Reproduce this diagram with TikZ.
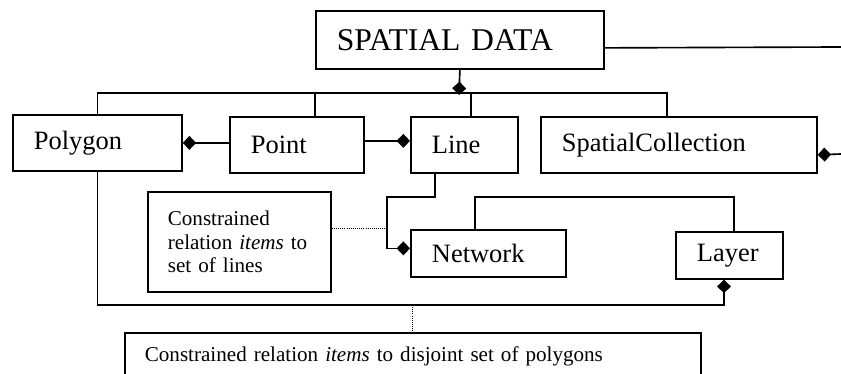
\documentclass[tikz,border=0pt]{standalone}
\usepackage{fontspec}
\setmainfont{Liberation Serif}
\usetikzlibrary{arrows.meta,positioning,calc}

\begin{document}
\begin{tikzpicture}[x=0.03cm,y=-0.03cm,
  box/.style={draw,line width=1.5pt,anchor=north west,inner xsep=0.63cm,inner ysep=0pt,
    align=left,minimum height=1.68cm,font=\fontsize{22.6}{26}\selectfont},
  notebox/.style={box,inner xsep=0.6cm,font=\fontsize{18}{20}\selectfont},
  conn/.style={line width=1.4pt},
  note/.style={line width=0.8pt,densely dotted},
  hasdia/.style={-{Diamond[length=0.4cm,width=0.42cm]}},
  diahas/.style={{Diamond[length=0.4cm,width=0.42cm]}-}]
  \useasboundingbox (0,0) rectangle (841,374);
  \clip (0,0) rectangle (841,374);

  % classes
  \node[box,text width=7.38cm,minimum height=1.74cm,font=\fontsize{27}{30}\selectfont] (data) at (315,10) {SPATIAL DATA};
  \node[box,text width=3.81cm] (polygon) at (12,114) {Polygon};
  \node[box,text width=2.76cm] (point) at (229,116) {Point};
  \node[box,text width=1.95cm] (line) at (410,116) {Line};
  \node[box,text width=7.02cm] (coll) at (540,116) {SpatialCollection};
  \node[box,text width=3.39cm,minimum height=1.41cm] (network) at (410,229) {Network};
  \node[box,text width=1.95cm,minimum height=1.41cm] (layer) at (675,231) {Layer};

  % constraints
  \node[notebox,text width=4.29cm,minimum height=3.0cm] (note1) at (147,191) {Constrained\\relation \textit{items} to\\set of lines};
  \node[notebox,text width=16.08cm,minimum height=1.38cm] (note2) at (124,332) {Constrained relation \textit{items} to disjoint set of polygons};

  % helper points
  \coordinate (bus) at (459,93);
  \coordinate (pointx) at ($(point.north west)+(86,0)$);
  \coordinate (linex) at ($(line.north west)+(61,0)$);
  \coordinate (collx) at ($(coll.north west)+(127,0)$);
  \coordinate (dataend) at (841,47);
  \coordinate (collend) at (841,154);
  \coordinate (lineout) at ($(line.south west)+(25,0)$);
  \coordinate (jog) at (387,197);
  \coordinate (netin) at ($(network.west)+(0,-5)$);
  \coordinate (netup) at ($(network.north west)+(65,0)$);
  \coordinate (layerup) at ($(layer.north west)+(59,0)$);
  \coordinate (layerx) at ($(layer.south west)+(49,0)$);
  \coordinate (ring) at (412,305);

  % aggregation under SPATIAL DATA
  \draw[conn,hasdia] (data.south) -- ($(bus)+(0,2)$);
  \draw[conn] (polygon.north) |- (bus) -| (collx);
  \draw[conn] (pointx) -- (pointx |- bus);
  \draw[conn] (linex) -- (linex |- bus);
  \draw[conn] ($(data.east)+(0,8)$) -- (dataend);

  % part-of links
  \draw[conn,diahas] (polygon.east) -- (polygon.east -| point.west);
  \draw[conn,hasdia] ($(point.east)+(0,-4)$) -- ($(line.west)+(0,-4)$);
  \draw[conn,diahas] ($(coll.east)+(0,10)$) -- (collend);
  \draw[conn,hasdia] (lineout) |- (jog) |- (netin);
  \draw[conn] (netup) -- ++(0,-32) -| (layerup);
  \draw[conn,hasdia] (polygon.south) |- (ring -| layerx) -- (layerx);

  % dotted notes
  \draw[note] ($(note1.east)+(0,-13)$) -- (jog |- {$(note1.east)+(0,-13)$});
  \draw[note] (ring) -- (ring |- note2.north);
\end{tikzpicture}
\end{document}
